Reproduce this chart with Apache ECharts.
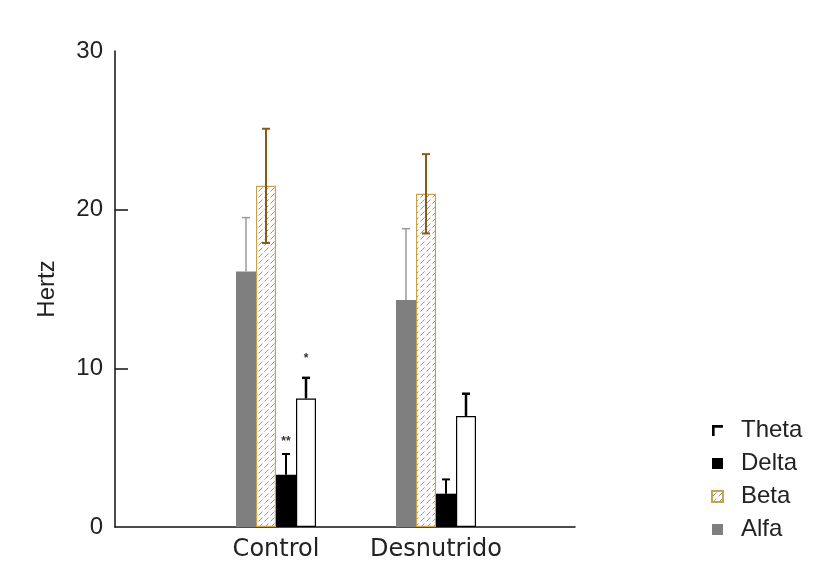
<!DOCTYPE html>
<html>
<head>
<meta charset="utf-8">
<script src="https://cdn.jsdelivr.net/npm/echarts@6/dist/echarts.min.js"></script>
<style>
  html, body { margin: 0; padding: 0; background: #ffffff; }
  #chart { width: 817px; height: 565px; }
</style>
</head>
<body>
<div id="chart"></div>
<script>
// Mean frequency per EEG band and group, with standard deviation
const groups = ['Control', 'Desnutrido'];
const bands = ['Alfa', 'Beta', 'Delta', 'Theta'];
const alfaMean = [16.1, 14.3];
const alfaSd = [3.4, 4.5];
const betaMean = [21.5, 21.0];
const betaSd = [3.6, 2.5];
const deltaMean = [3.3, 2.1];
const deltaSd = [1.3, 0.9];
const thetaMean = [8.1, 7.0];
const thetaSd = [1.3, 1.4];
// significance marks above the error bars
const deltaSig = ['**', ''];
const thetaSig = ['*', ''];
const yTicks = [0, 10, 20, 30];

const legendOrder = ['Theta', 'Delta', 'Beta', 'Alfa'];

// hatch fill for the Beta bars
function makeHatch() {
  const c = document.createElement('canvas');
  c.width = 6; c.height = 6;
  const ctx = c.getContext('2d');
  ctx.fillStyle = '#ffffff';
  ctx.fillRect(0, 0, 6, 6);
  ctx.strokeStyle = '#9e988c';
  ctx.lineWidth = 1;
  ctx.beginPath();
  ctx.moveTo(0.5, 5.5); ctx.lineTo(4.5, 1.5);
  ctx.stroke();
  return c;
}
const hatch = { image: makeHatch(), repeat: 'repeat' };

const BAR_W = 20;
const chart = echarts.init(document.getElementById('chart'), null, { renderer: 'canvas' });

const bandStyle = {
  Alfa: { bar: { color: '#7f7f7f' }, err: '#9a9a9a', errW: 1.5, both: false },
  Beta: { bar: { color: hatch, borderColor: '#c9a34c', borderWidth: 1.2 }, err: '#8c5a18', errW: 2, both: true },
  Delta: { bar: { color: '#000000' }, err: '#000000', errW: 2, both: false },
  Theta: { bar: { color: '#ffffff', borderColor: '#000000', borderWidth: 1.2 }, err: '#000000', errW: 2.5, both: false }
};
const means = { Alfa: alfaMean, Beta: betaMean, Delta: deltaMean, Theta: thetaMean };
const sds = { Alfa: alfaSd, Beta: betaSd, Delta: deltaSd, Theta: thetaSd };
const sigs = { Alfa: ['', ''], Beta: ['', ''], Delta: deltaSig, Theta: thetaSig };

const series = [];
bands.forEach(function (b) {
  series.push({
    name: b,
    type: 'bar',
    xAxisIndex: 1,
    yAxisIndex: 1,
    barWidth: BAR_W,
    barGap: '0%',
    itemStyle: bandStyle[b].bar,
    data: means[b]
  });
});
bands.forEach(function (b, k) {
  const st = bandStyle[b];
  const offset = (k - (bands.length - 1) / 2) * BAR_W;
  series.push({
    name: b + ' sd',
    type: 'custom',
    xAxisIndex: 1,
    yAxisIndex: 1,
    z: 5,
    data: means[b].map(function (m, i) { return [i, m, sds[b][i]]; }),
    renderItem: function (params, api) {
      const i = api.value(0), m = api.value(1), s = api.value(2);
      const sig = sigs[b][i];
      const base = api.coord([i, m]);
      const top = api.coord([i, m + s]);
      const bot = api.coord([i, st.both ? m - s : m]);
      const x = base[0] + offset;
      const cap = 4;
      const style = { stroke: st.err, lineWidth: st.errW, fill: null };
      const children = [
        { type: 'line', shape: { x1: x, y1: bot[1], x2: x, y2: top[1] }, style: style },
        { type: 'line', shape: { x1: x - cap, y1: top[1], x2: x + cap, y2: top[1] }, style: style }
      ];
      if (st.both) {
        children.push({ type: 'line', shape: { x1: x - cap, y1: bot[1], x2: x + cap, y2: bot[1] }, style: style });
      }
      if (sig) {
        children.push({
          type: 'text',
          style: {
            x: x, y: top[1] - (sig.length > 1 ? 12 : 19),
            text: sig, align: 'center', verticalAlign: 'middle',
            fill: '#333', font: 'bold 12px "Liberation Sans", Arial, sans-serif'
          }
        });
      }
      return { type: 'group', children: children };
    }
  });
});

chart.setOption({
  animation: false,
  backgroundColor: '#ffffff',
  grid: [
    { left: 115, right: 242, top: 51, bottom: 38 },
    { left: 196, width: 320, top: 51, bottom: 38 }
  ],
  xAxis: [
    {
      type: 'value', gridIndex: 0, min: 0, max: 1,
      axisLine: { show: true, lineStyle: { color: '#111', width: 1.5 } },
      axisTick: { show: false }, axisLabel: { show: false }, splitLine: { show: false }
    },
    {
      type: 'category', gridIndex: 1, data: groups,
      axisLine: { show: false }, axisTick: { show: false }, splitLine: { show: false },
      axisLabel: {
        interval: 0,
        color: '#222', fontSize: 24, margin: 11,
        fontFamily: '"DejaVu Sans", sans-serif'
      }
    }
  ],
  yAxis: [
    {
      type: 'value', gridIndex: 0, min: 0, max: 30, interval: 10,
      name: 'Hertz', nameLocation: 'middle', nameGap: 56, nameRotate: 90,
      nameTextStyle: { color: '#222', fontSize: 24, fontFamily: '"Liberation Sans", Arial, sans-serif' },
      axisLine: { show: true, lineStyle: { color: '#111', width: 1.5 } },
      axisTick: { show: true, inside: true, length: 13, lineStyle: { color: '#111', width: 1.5 },
        customValues: [10, 20] },
      axisLabel: {
        color: '#222', fontSize: 24, margin: 12,
        fontFamily: '"Liberation Sans", Arial, sans-serif',
        customValues: yTicks
      },
      splitLine: { show: false }
    },
    {
      type: 'value', gridIndex: 1, min: 0, max: 30, interval: 10, show: false
    }
  ],
  legend: {
    orient: 'vertical',
    left: 706, top: 413,
    itemWidth: 11, itemHeight: 11, itemGap: 8,
    textStyle: { color: '#222', fontSize: 24, lineHeight: 25, fontFamily: '"Liberation Sans", Arial, sans-serif', padding: [0, 0, 0, 13] },
    data: legendOrder.map(function (n) {
      if (n === 'Theta') {
        return { name: n, icon: 'path://M0,0L10,0L10,2.4L2.4,2.4L2.4,10L0,10Z', itemStyle: { color: '#000', borderWidth: 0 } };
      }
      return { name: n, icon: 'rect' };
    })
  },
  series: series
});
</script>
</body>
</html>
